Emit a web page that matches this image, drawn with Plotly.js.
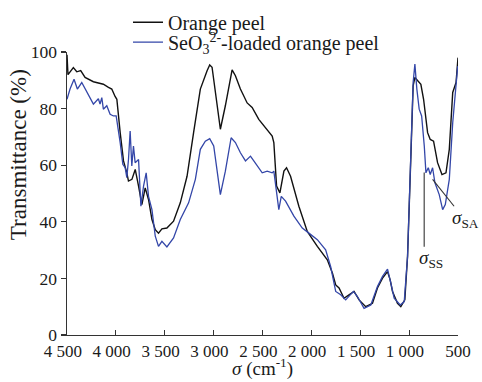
<!DOCTYPE html>
<html>
<head>
<meta charset="utf-8">
<script src="https://cdn.plot.ly/plotly-3.0.1.min.js"></script>
<style>
  html, body { margin: 0; padding: 0; background: #fff; }
  #chart { width: 482px; height: 382px; }
</style>
</head>
<body>
<div id="chart"></div>
<script>
// FTIR spectra: wavenumber (cm-1) vs transmittance (%)
const peelWavenumber = [4500, 4490, 4435, 4400, 4360, 4315, 4230, 4128, 4076, 4042, 4008, 3990, 3956, 3922, 3888, 3871, 3836, 3802, 3768, 3734, 3700, 3666, 3631, 3597, 3564, 3529, 3478, 3410, 3341, 3272, 3205, 3136, 3067, 3040, 3016, 2931, 2880, 2811, 2777, 2726, 2657, 2606, 2538, 2469, 2401, 2384, 2356, 2322, 2281, 2254, 2213, 2128, 2042, 1939, 1837, 1785, 1751, 1717, 1666, 1615, 1563, 1512, 1444, 1375, 1324, 1272, 1221, 1194, 1170, 1119, 1085, 1044, 1016, 982, 959, 941, 914, 880, 852, 811, 784, 750, 709, 664, 623, 589, 554, 520, 500];
const peelTransmittance = [99, 92, 94.5, 93, 93.4, 91, 89.5, 88.6, 87.5, 86.9, 84.3, 83.3, 71.5, 61.5, 57.3, 54.4, 55, 58.5, 52.6, 46.1, 52, 47.9, 40.8, 37.2, 36, 37.5, 37.8, 40.2, 46.7, 56.1, 71.5, 86.9, 93.4, 95.4, 94.6, 72.7, 81, 93.7, 91.6, 86.9, 82, 80.4, 76.2, 73.3, 70.3, 68, 52.6, 50.2, 57.9, 59.1, 56.1, 45.5, 36.6, 31.3, 26.6, 21.9, 17.7, 16.6, 13, 14.2, 15.4, 12.4, 10, 11.2, 16.6, 20.1, 22.4, 19.5, 15.4, 11.2, 10, 12.4, 27.8, 63.2, 88, 91, 89.8, 88.6, 83.3, 71.5, 69.1, 68.5, 60.9, 56.7, 57.3, 65.6, 85.7, 89.2, 98];

const loadedWavenumber = [4500, 4469, 4428, 4394, 4349, 4298, 4230, 4179, 4162, 4144, 4128, 4093, 4059, 4025, 3997, 3956, 3929, 3905, 3888, 3871, 3854, 3837, 3820, 3803, 3768, 3744, 3717, 3690, 3666, 3631, 3597, 3564, 3529, 3478, 3410, 3341, 3256, 3187, 3136, 3085, 3040, 2999, 2931, 2880, 2821, 2777, 2726, 2674, 2623, 2589, 2538, 2503, 2452, 2401, 2384, 2367, 2333, 2308, 2264, 2179, 2093, 2025, 1939, 1854, 1803, 1751, 1700, 1649, 1570, 1529, 1461, 1392, 1324, 1272, 1221, 1187, 1153, 1091, 1050, 1016, 982, 959, 941, 921, 897, 872, 845, 828, 804, 784, 760, 736, 692, 657, 630, 589, 554, 520, 503];
const loadedTransmittance = [83.3, 86.9, 90.4, 86.9, 89.2, 85.7, 81.6, 83.5, 81.6, 83.9, 79.8, 81, 78, 77.4, 77.4, 68, 60.3, 59.1, 55.6, 62, 72.1, 59.7, 66.8, 60.9, 62, 45.5, 52.6, 57.3, 49, 44.3, 34.9, 31.3, 33.1, 31.1, 34.3, 40.8, 46.7, 55, 65.6, 68.5, 69.4, 66.8, 49.6, 57.9, 69.7, 68, 64.4, 61.5, 63.2, 61.5, 59.1, 57.3, 57.9, 57.3, 57.9, 52.6, 44.3, 49, 47.3, 42, 37.8, 36, 33.7, 30.1, 24.2, 15.4, 14.2, 12.4, 15.4, 13.6, 9.4, 10.6, 17.1, 20.7, 23.3, 18.3, 13, 10.6, 11.8, 27.8, 63.2, 89.2, 95.7, 86.9, 79.8, 77.4, 66.8, 57.3, 59.1, 56.7, 59.1, 53.8, 49.6, 44.3, 46.1, 55, 75, 90.4, 95];

const xTickValues = [4500, 4000, 3500, 3000, 2500, 2000, 1500, 1000, 500];
// en-space padding sets the thousands labels slightly left of their ticks
const xTickLabels = ['4 500\u2002', '4 000\u2002', '3 500\u2002', '3 000\u2002', '2 500\u2002', '2 000\u2002', '1 500\u2002', '1 000\u2002', '500'];
const yTickValues = [0, 20, 40, 60, 80, 100];

// Peak markers: [x, y] end points of the pointer lines, label anchors
const ssPointer = [[846, 57.4], [846, 31.2]];
const saPointer = [[760, 55], [540, 45.5]];
const ssLabel = [774, 27];
const saLabel = [585, 41];

const serif = 'Times New Roman, Liberation Serif, DejaVu Serif, serif';
const ink = '#1a1a1a';

const traces = [
  {
    x: peelWavenumber, y: peelTransmittance,
    type: 'scatter', mode: 'lines',
    name: 'Orange peel',
    legend: 'legend',
    line: { color: '#111111', width: 1.4 }
  },
  {
    x: loadedWavenumber, y: loadedTransmittance,
    type: 'scatter', mode: 'lines',
    name: 'SeO<sub>3</sub><sup>2-</sup>-loaded orange peel',
    legend: 'legend2',
    line: { color: '#3346a8', width: 1.3 }
  }
];

const legendStyle = {
  x: 0.156, xanchor: 'left', yanchor: 'middle',
  bgcolor: 'rgba(0,0,0,0)', borderwidth: 0,
  font: { family: serif, size: 20, color: ink },
  itemclick: false
};

const layout = {
  width: 482, height: 382,
  margin: { l: 67, r: 24, t: 52, b: 47, autoexpand: false },
  paper_bgcolor: '#ffffff', plot_bgcolor: '#ffffff',
  font: { family: serif, color: ink, size: 17 },
  showlegend: true,
  legend: Object.assign({}, legendStyle, { y: 1.105 }),
  legend2: Object.assign({}, legendStyle, { y: 1.035 }),
  xaxis: {
    range: [4500, 500], autorange: false, automargin: false,
    tickmode: 'array', tickvals: xTickValues, ticktext: xTickLabels, tickangle: 0,
    ticks: 'inside', ticklen: 5, tickwidth: 1.2, tickcolor: '#333',
    showline: true, linecolor: '#333', linewidth: 1.4,
    showgrid: false, zeroline: false, mirror: false,
    tickfont: { family: serif, size: 17, color: ink }
  },
  yaxis: {
    range: [0, 100], autorange: false, automargin: false,
    tickmode: 'array', tickvals: yTickValues,
    ticks: 'outside', ticklen: 5, tickwidth: 1.2, tickcolor: '#333',
    showline: true, linecolor: '#333', linewidth: 1.4,
    showgrid: false, zeroline: false, mirror: false,
    tickfont: { family: serif, size: 17.5, color: ink }
  },
  shapes: [
    { type: 'line', xref: 'x', yref: 'y', x0: ssPointer[0][0], y0: ssPointer[0][1], x1: ssPointer[1][0], y1: ssPointer[1][1], line: { color: '#333', width: 1.1 } },
    { type: 'line', xref: 'x', yref: 'y', x0: saPointer[0][0], y0: saPointer[0][1], x1: saPointer[1][0], y1: saPointer[1][1], line: { color: '#333', width: 1.1 } }
  ],
  annotations: [
    { text: 'Transmittance (%)', xref: 'paper', yref: 'paper', x: -0.125, y: 0.636, textangle: -90, showarrow: false, xanchor: 'center', yanchor: 'middle', font: { family: serif, size: 23, color: ink } },
    { text: '<i>σ</i> (cm<sup>-1</sup>)', xref: 'paper', yref: 'paper', x: 0.5, y: -0.115, showarrow: false, xanchor: 'center', yanchor: 'middle', font: { family: serif, size: 19, color: ink } },
    { text: '<i>σ</i><sub>SS</sub>', xref: 'x', yref: 'y', x: ssLabel[0], y: ssLabel[1], showarrow: false, xanchor: 'center', yanchor: 'middle', font: { family: serif, size: 19, color: ink } },
    { text: '<i>σ</i><sub>SA</sub>', xref: 'x', yref: 'y', x: saLabel[0], y: saLabel[1], showarrow: false, xanchor: 'left', yanchor: 'middle', font: { family: serif, size: 19, color: ink } }
  ]
};

Plotly.newPlot('chart', traces, layout, { staticPlot: true, displayModeBar: false });
</script>
</body>
</html>
